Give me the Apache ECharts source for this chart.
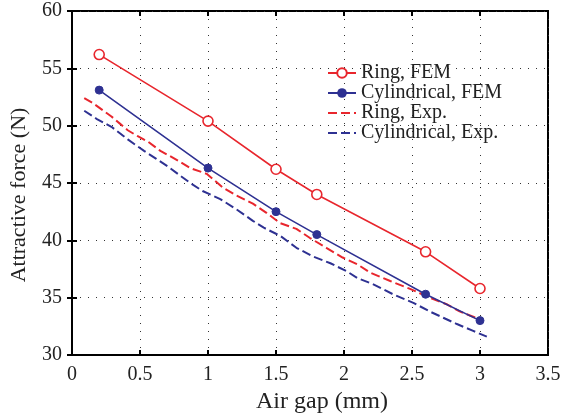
<!DOCTYPE html>
<html>
<head>
<meta charset="utf-8">
<script src="https://cdn.jsdelivr.net/npm/echarts@6/dist/echarts.min.js"></script>
<style>
  html, body { margin: 0; padding: 0; background: #fff; }
  #chart { width: 568px; height: 417px; }
</style>
</head>
<body>
<div id="chart"></div>
<script>
// FEM results
let femGap = [0.2, 1, 1.5, 1.8, 2.6, 3]
let ringFem = [56.2, 50.4, 46.2, 44.0, 39.0, 35.8]
let cylFem = [53.1, 46.3, 42.5, 40.5, 35.3, 33.0]

let ringExpGap = [0.09, 0.15, 0.22, 0.29, 0.35, 0.41, 0.48, 0.56, 0.65, 0.72, 0.80, 0.87, 0.99, 1.05, 1.11, 1.21, 1.33, 1.43, 1.53, 1.65, 1.75, 1.87, 1.99, 2.10, 2.19, 2.34, 2.49, 2.63, 2.76, 2.85, 2.98]
let ringExp = [52.4, 52.0, 51.4, 50.8, 50.2, 49.6, 49.1, 48.6, 47.8, 47.35, 46.8, 46.3, 45.8, 45.2, 44.6, 43.9, 43.2, 42.4, 41.5, 41.0, 40.2, 39.35, 38.5, 37.9, 37.2, 36.45, 35.75, 35.0, 34.4, 33.8, 33.2]
let cylExpGap = [0.09, 0.18, 0.29, 0.41, 0.53, 0.62, 0.71, 0.80, 0.87, 0.96, 1.09, 1.21, 1.33, 1.41, 1.53, 1.65, 1.77, 1.90, 2.02, 2.10, 2.21, 2.36, 2.51, 2.63, 2.73, 2.83, 2.95, 3.05]
let cylExp = [51.3, 50.6, 49.9, 48.8, 47.8, 47.1, 46.4, 45.6, 45.0, 44.3, 43.6, 42.7, 41.7, 41.1, 40.4, 39.35, 38.6, 38.0, 37.3, 36.7, 36.2, 35.3, 34.55, 33.8, 33.25, 32.7, 32.1, 31.6]

let red = '#e8262d'
let blue = '#2e3192'
let font = 'Liberation Serif'

function pairs(xs, ys) {
  return xs.map((x, i) => [x, ys[i]])
}

let chart = echarts.init(document.getElementById('chart'))

let dotted = { show: true, lineStyle: { color: '#333', width: 1, type: [1, 7] } }
let tick = { show: true, inside: true, length: 5, lineStyle: { color: '#000', width: 2 } }

let option = {
  animation: false,
  grid: {
    left: 72, right: 20, top: 11, bottom: 62,
    outerBoundsMode: 'none', containLabel: false,
    show: true, borderColor: '#000', borderWidth: 2
  },
  legend: {
    orient: 'vertical',
    left: 322,
    top: 58,
    itemWidth: 28,
    itemHeight: 12,
    itemGap: 0,
    textStyle: { fontFamily: font, fontSize: 20, lineHeight: 20, color: '#222' },
    data: [
      'Ring, FEM',
      'Cylindrical, FEM',
      { name: 'Ring, Exp.', itemStyle: { opacity: 0 } },
      { name: 'Cylindrical, Exp.', itemStyle: { opacity: 0 } }
    ]
  },
  xAxis: [{
    type: 'value', min: 0, max: 3.5, interval: 0.5,
    name: 'Air gap (mm)', nameLocation: 'middle', nameGap: 35,
    nameTextStyle: { fontFamily: font, fontSize: 24, color: '#222', padding: [0, 0, 0, 24] },
    axisLine: { lineStyle: { color: '#000', width: 2 } },
    axisTick: tick,
    axisLabel: { fontFamily: font, fontSize: 20, color: '#222', margin: 10 },
    splitLine: dotted
  }, {
    type: 'value', min: 0, max: 3.5, interval: 0.5, position: 'top',
    axisLine: { show: false }, axisTick: tick,
    axisLabel: { show: false }, splitLine: { show: false }
  }],
  yAxis: [{
    type: 'value', min: 30, max: 60, interval: 5,
    name: 'Attractive force (N)', nameLocation: 'middle', nameGap: 42,
    nameTextStyle: { fontFamily: font, fontSize: 22, color: '#222', padding: [0, 24, 0, 0] },
    axisLine: { show: true, lineStyle: { color: '#000', width: 2 } },
    axisTick: tick,
    axisLabel: { fontFamily: font, fontSize: 20, color: '#222', margin: 10 },
    splitLine: dotted
  }, {
    type: 'value', min: 30, max: 60, interval: 5, position: 'right',
    axisLine: { show: false }, axisTick: tick,
    axisLabel: { show: false }, splitLine: { show: false }
  }],
  series: [
    {
      name: 'Ring, FEM', type: 'line', data: pairs(femGap, ringFem),
      symbol: 'circle', symbolSize: 10,
      itemStyle: { color: '#fff', borderColor: red, borderWidth: 1.6 },
      lineStyle: { color: red, width: 1.6 }, z: 4
    },
    {
      name: 'Cylindrical, FEM', type: 'line', data: pairs(femGap, cylFem),
      symbol: 'circle', symbolSize: 8,
      itemStyle: { color: blue, borderColor: blue },
      lineStyle: { color: blue, width: 1.6 }, z: 4
    },
    {
      name: 'Ring, Exp.', type: 'line', data: pairs(ringExpGap, ringExp),
      showSymbol: false, symbol: 'none',
      itemStyle: { color: red },
      lineStyle: { color: red, width: 2, type: [9, 4] }
    },
    {
      name: 'Cylindrical, Exp.', type: 'line', data: pairs(cylExpGap, cylExp),
      showSymbol: false, symbol: 'none',
      itemStyle: { color: blue },
      lineStyle: { color: blue, width: 2, type: [9, 4] }
    }
  ]
}

chart.setOption(option)
</script>
</body>
</html>
